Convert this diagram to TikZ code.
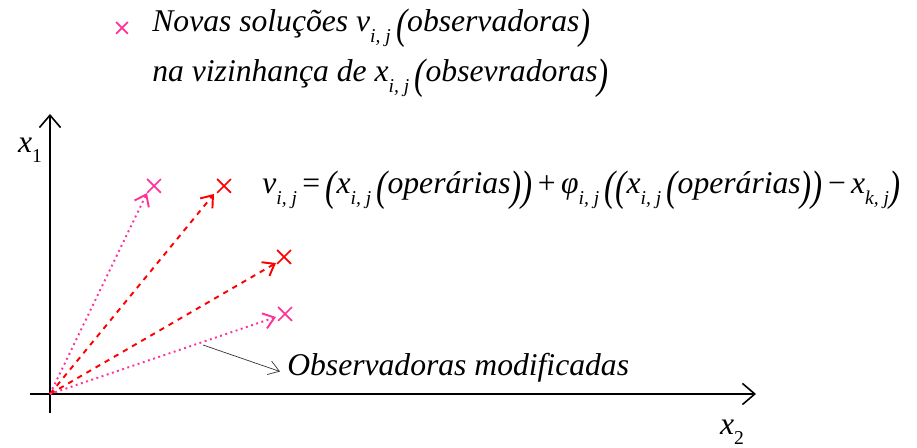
\documentclass[tikz,border=0pt]{standalone}
\usepackage{fontspec}
\setmainfont{Liberation Serif}
\usepackage{graphicx}
\usetikzlibrary{arrows.meta,shapes.misc}
\definecolor{vpink}{HTML}{FF3399}
\definecolor{vred}{HTML}{FF0000}
% lowered index and taller parenthesis
\newcommand{\idx}[1]{\raisebox{-0.7ex}{\scalebox{0.62}{#1}}}
\newcommand{\bpar}[1]{\raisebox{-0.2em}{\scalebox{1.05}[1.35]{#1}}}
\tikzset{
  txt/.style={font=\fontsize{18}{22}\selectfont\itshape,inner sep=0pt},
  xmark/.style={cross out,draw=#1,minimum size=0.24cm,inner sep=0pt,line width=1pt},
  axis/.style={line width=0.9pt,-{Straight Barb[length=7pt,width=12pt]}},
  vec/.style={line width=1.1pt,-{Straight Barb[length=6pt,width=9pt]}}
}
\begin{document}
\begin{tikzpicture}[x=0.02cm,y=-0.02cm]
  \useasboundingbox (0,0) rectangle (917,448);
  % legend
  \node[xmark=vpink,minimum size=0.2cm] (leg) at (122,28) {};
  \node[txt,anchor=west] (l1) at (152,28)
    {Novas soluções v\idx{i, j}\,\bpar{(}observadoras\bpar{)}};
  \node[txt,anchor=west] (l2) at (152,78)
    {na vizinhança de x\idx{i, j}\,\bpar{(}obsevradoras\bpar{)}};
  % axes
  \coordinate (O) at (50,394);
  \coordinate (ybot) at (50,413);
  \coordinate (ytop) at (50,114);
  \coordinate (xleft) at (30,394);
  \coordinate (xright) at (756,394);
  \draw[axis] (ybot) -- (ytop);
  \draw[axis] (xleft) -- (xright);
  \node[txt] (lx1) at (30,150) {x\idx{\textup{1}}};
  \node[txt] (lx2) at (732,432) {x\idx{\textup{2}}};
  % new solutions
  \coordinate (t1) at (147,193);
  \coordinate (t2) at (214,194);
  \coordinate (t3) at (276,263);
  \coordinate (t4) at (276,317);
  \node[xmark=vpink] (c1) at (154,186) {};
  \node[xmark=vred] (c2) at (224,186) {};
  \node[xmark=vred] (c3) at (284,257) {};
  \node[xmark=vpink] (c4) at (285,314) {};
  \draw[vec,vpink,dotted] (O) -- (t1);
  \draw[vec,vred,dashed] (O) -- (t2);
  \draw[vec,vred,dashed] (O) -- (t3);
  \draw[vec,vpink,dotted] (O) -- (t4);
  % formula
  \node[txt,anchor=west] (form) at (262,190)
    {v\idx{i, j}\,\textup{=}\,\bpar{(}x\idx{i, j}\,\bpar{(}operárias\bpar{)}\bpar{)}%
     \,\textup{+}\,φ\idx{i, j}\,\bpar{(}\bpar{(}x\idx{i, j}\,\bpar{(}operárias\bpar{)}\bpar{)}%
     \,\textup{−}\,x\idx{k, j}\bpar{)}};
  % annotation
  \node[txt,anchor=west] (obs) at (287,368) {Observadoras modificadas};
  \coordinate (pnt) at (203,345);
  \draw[line width=0.4pt,black!80,-{Straight Barb[length=6pt,width=8pt]}]
    (pnt) -- ([xshift=-4pt,yshift=-2pt]obs.west);
\end{tikzpicture}
\end{document}
